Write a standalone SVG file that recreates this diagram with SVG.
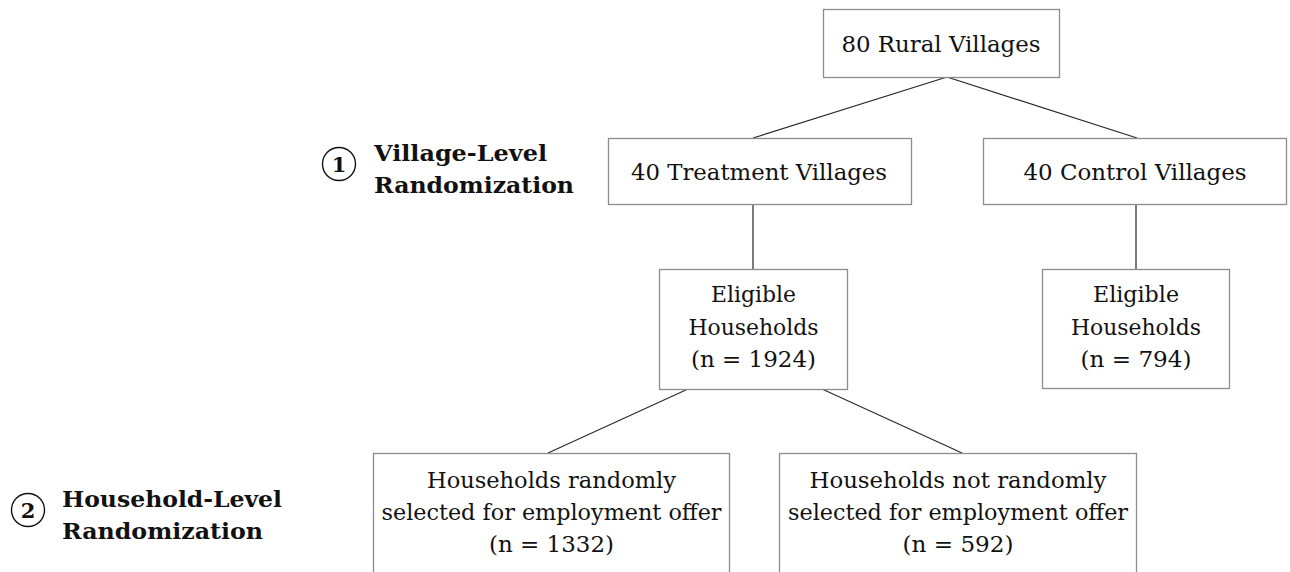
<svg xmlns="http://www.w3.org/2000/svg" width="1290" height="572" viewBox="0 0 1290 572">
<style>
  .box { fill: #ffffff; stroke: #8c8c8c; stroke-width: 1.3; }
  .edge { stroke: #262626; stroke-width: 1.2; fill: none; }
  .t { font-family: "DejaVu Serif", "Liberation Serif", serif; font-size: 23px; fill: #111111; text-anchor: middle; }
  .lab { font-family: "DejaVu Serif", "Liberation Serif", serif; font-size: 22px; font-weight: bold; fill: #111111; }
  .num { font-family: "DejaVu Serif", "Liberation Serif", serif; font-size: 21px; font-weight: bold; fill: #111111; text-anchor: middle; }
  .circ { fill: none; stroke: #111111; stroke-width: 1.4; }
</style>
<rect width="1290" height="572" fill="#ffffff"/>
<g id="connectors">
  <line class="edge" x1="947" y1="77" x2="753" y2="138"/>
  <line class="edge" x1="947" y1="77" x2="1137" y2="138"/>
  <line class="edge" x1="753" y1="204" x2="753" y2="269"/>
  <line class="edge" x1="1136" y1="204" x2="1136" y2="269"/>
  <line class="edge" x1="688" y1="389" x2="548" y2="453"/>
  <line class="edge" x1="822" y1="389" x2="962" y2="453"/>
</g>
<g id="rural">
  <rect class="box" x="823.5" y="9.5" width="236" height="68"/>
  <text class="t" x="941" y="52" textLength="199" lengthAdjust="spacingAndGlyphs">80 Rural Villages</text>
</g>
<g id="treatment">
  <rect class="box" x="608.5" y="138.5" width="303" height="66"/>
  <text class="t" x="759" y="180" textLength="256" lengthAdjust="spacingAndGlyphs">40 Treatment Villages</text>
</g>
<g id="control">
  <rect class="box" x="983.5" y="138.5" width="303" height="66"/>
  <text class="t" x="1135" y="180" textLength="223" lengthAdjust="spacingAndGlyphs">40 Control Villages</text>
</g>
<g id="eligible-treatment">
  <rect class="box" x="659.5" y="269.5" width="188" height="120"/>
  <text class="t" x="753.5" y="302" textLength="85" lengthAdjust="spacingAndGlyphs">Eligible</text>
  <text class="t" x="753.5" y="335" textLength="130" lengthAdjust="spacingAndGlyphs">Households</text>
  <text class="t" x="753.5" y="367" textLength="125" lengthAdjust="spacingAndGlyphs">(n = 1924)</text>
</g>
<g id="eligible-control">
  <rect class="box" x="1042.5" y="269.5" width="187" height="119"/>
  <text class="t" x="1136" y="302" textLength="86" lengthAdjust="spacingAndGlyphs">Eligible</text>
  <text class="t" x="1136" y="335" textLength="130" lengthAdjust="spacingAndGlyphs">Households</text>
  <text class="t" x="1136" y="367" textLength="111" lengthAdjust="spacingAndGlyphs">(n = 794)</text>
</g>
<g id="selected">
  <rect class="box" x="373.5" y="453.5" width="356" height="140"/>
  <text class="t" x="551.5" y="488" textLength="249" lengthAdjust="spacingAndGlyphs">Households randomly</text>
  <text class="t" x="551.5" y="520" textLength="340" lengthAdjust="spacingAndGlyphs">selected for employment offer</text>
  <text class="t" x="551.5" y="552" textLength="125" lengthAdjust="spacingAndGlyphs">(n = 1332)</text>
</g>
<g id="not-selected">
  <rect class="box" x="779.5" y="453.5" width="357" height="140"/>
  <text class="t" x="958" y="488" textLength="297" lengthAdjust="spacingAndGlyphs">Households not randomly</text>
  <text class="t" x="958" y="520" textLength="340" lengthAdjust="spacingAndGlyphs">selected for employment offer</text>
  <text class="t" x="958" y="552" textLength="111" lengthAdjust="spacingAndGlyphs">(n = 592)</text>
</g>
<g id="label-village">
  <circle class="circ" cx="339" cy="164" r="16.5"/>
  <text class="num" x="339" y="171.5">1</text>
  <text class="lab" x="374" y="161" textLength="173" lengthAdjust="spacingAndGlyphs">Village-Level</text>
  <text class="lab" x="374" y="193" textLength="200" lengthAdjust="spacingAndGlyphs">Randomization</text>
</g>
<g id="label-household">
  <circle class="circ" cx="28" cy="510" r="16.5"/>
  <text class="num" x="28" y="517.5">2</text>
  <text class="lab" x="62" y="507" textLength="220" lengthAdjust="spacingAndGlyphs">Household-Level</text>
  <text class="lab" x="62" y="539" textLength="201" lengthAdjust="spacingAndGlyphs">Randomization</text>
</g>
</svg>
